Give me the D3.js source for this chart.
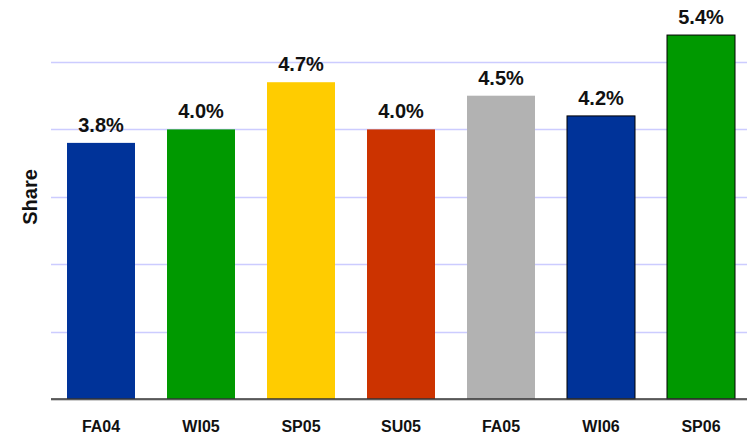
<!DOCTYPE html>
<html>
<head>
<meta charset="utf-8">
<script src="https://cdn.jsdelivr.net/npm/d3@7"></script>
<style>
  html, body { margin: 0; padding: 0; background: #fff; }
  svg { display: block; font-family: "Liberation Sans", Arial, sans-serif; }
</style>
</head>
<body>
<svg id="chart" width="747" height="439"></svg>
<script>
// Term-by-term share
const terms = ["FA04", "WI05", "SP05", "SU05", "FA05", "WI06", "SP06"];
const shares = [3.8, 4.0, 4.7, 4.0, 4.5, 4.2, 5.4];
const barColors = ["#003399", "#009900", "#FFCC00", "#CC3300", "#B2B2B2", "#003399", "#009900"];
const outlined = [false, false, false, false, false, true, true];
const gridValues = [1, 2, 3, 4, 5];

const svg = d3.select("#chart");
const left = 51, right = 751, baseY = 399, topY = 62;

const x = d3.scaleBand()
  .domain(terms)
  .range([left, right])
  .paddingInner(0.32)
  .paddingOuter(0.16);

const y = d3.scaleLinear()
  .domain([0, 5])
  .range([baseY, topY]);

// horizontal gridlines
svg.append("g")
  .selectAll("line")
  .data(gridValues)
  .join("line")
  .attr("x1", left)
  .attr("x2", 747)
  .attr("y1", d => Math.round(y(d)) + 0.5)
  .attr("y2", d => Math.round(y(d)) + 0.5)
  .attr("stroke", "#CCCCFF")
  .attr("stroke-width", 1.5);

const rows = terms.map((t, i) => ({ term: t, value: shares[i], color: barColors[i], outline: outlined[i] }));

// bars
svg.append("g")
  .selectAll("rect")
  .data(rows)
  .join("rect")
  .attr("x", d => x(d.term))
  .attr("y", d => y(d.value))
  .attr("width", x.bandwidth())
  .attr("height", d => baseY - y(d.value))
  .attr("fill", d => d.color)
  .attr("stroke", d => d.outline ? "#000" : "none")
  .attr("stroke-width", 1);

// baseline
svg.append("line")
  .attr("x1", left).attr("x2", 747)
  .attr("y1", baseY + 1).attr("y2", baseY + 1)
  .attr("stroke", "#999").attr("stroke-width", 1);
svg.append("line")
  .attr("x1", left).attr("x2", 747)
  .attr("y1", baseY).attr("y2", baseY)
  .attr("stroke", "#333").attr("stroke-width", 1.5);

// value labels
svg.append("g")
  .selectAll("text")
  .data(rows)
  .join("text")
  .attr("x", d => x(d.term) + x.bandwidth() / 2)
  .attr("y", d => y(d.value) - 11)
  .attr("text-anchor", "middle")
  .attr("font-size", 20)
  .attr("font-weight", "bold")
  .attr("fill", "#111")
  .text(d => d.value.toFixed(1) + "%");

// category labels
svg.append("g")
  .selectAll("text")
  .data(terms)
  .join("text")
  .attr("x", d => x(d) + x.bandwidth() / 2)
  .attr("y", 432)
  .attr("text-anchor", "middle")
  .attr("font-size", 16)
  .attr("font-weight", "bold")
  .attr("fill", "#111")
  .text(d => d);

// y-axis title
svg.append("text")
  .attr("transform", "translate(37,197) rotate(-90)")
  .attr("text-anchor", "middle")
  .attr("font-size", 20)
  .attr("font-weight", "bold")
  .attr("fill", "#111")
  .text("Share");
</script>
</body>
</html>
